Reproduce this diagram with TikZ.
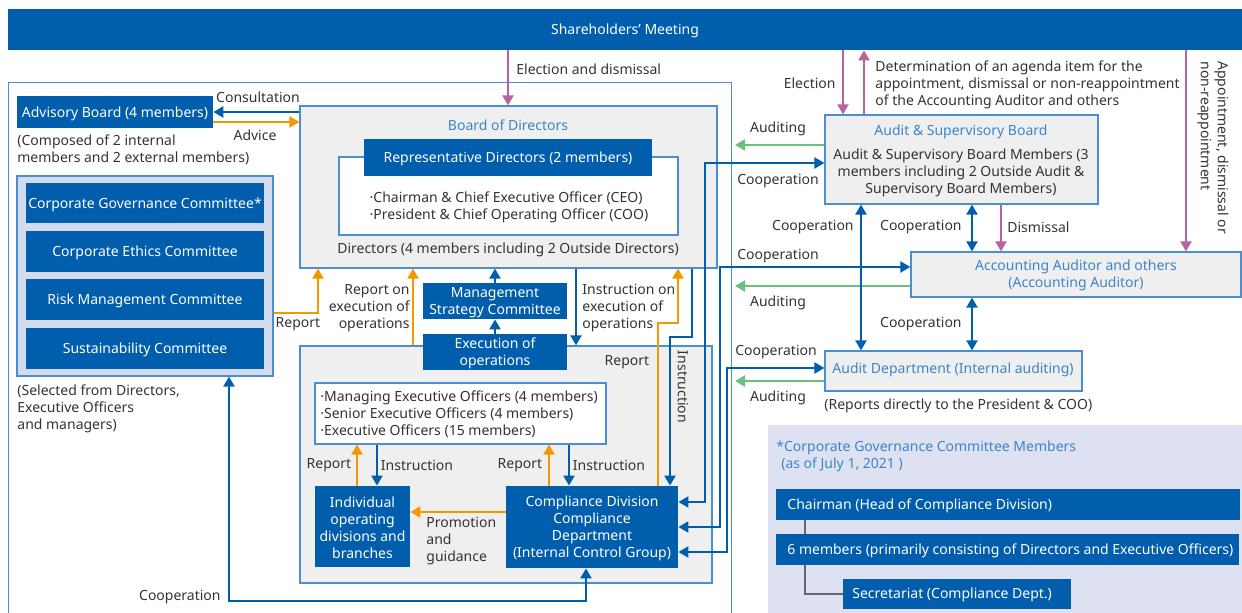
\documentclass[tikz,border=0pt]{standalone}
\usepackage{fontspec}
\setmainfont{Noto Sans}
\usetikzlibrary{arrows.meta,fit,calc}
\definecolor{dblue}{HTML}{005EAD}
\definecolor{lblue}{HTML}{4A8FD4}
\definecolor{tblue}{HTML}{3C85C8}
\definecolor{gfill}{HTML}{EFEFEF}
\definecolor{lav}{HTML}{D3DBEE}
\definecolor{lav2}{HTML}{DDE1F2}
\definecolor{orng}{HTML}{F39800}
\definecolor{grn}{HTML}{6BBF7F}
\definecolor{pnk}{HTML}{B863A0}
\definecolor{txt}{HTML}{333333}
\definecolor{gline}{HTML}{666666}
\begin{document}
\begin{tikzpicture}[x=0.5pt,y=-0.5pt, font=\fontsize{7}{8.5}\selectfont, text=txt,
 dbox/.style={fill=dblue, draw=none, inner sep=0},
 wt/.style={text=white, inner sep=0, align=center, yshift=-0.75pt},
 gbox/.style={fill=gfill, draw=lblue, line width=0.6pt, inner sep=0},
 wbox/.style={fill=white, draw=lblue, line width=0.6pt, inner sep=0},
 lbl/.style={inner sep=0, align=left, yshift=-0.5pt},
 btitle/.style={inner sep=0, text=tblue, align=center},
 bar/.style={draw=dblue, line width=1.1pt, -{Triangle[length=5pt,width=5.5pt]}},
 dbar/.style={draw=dblue, line width=1.1pt, {Triangle[length=5pt,width=5.5pt]}-{Triangle[length=5pt,width=5.5pt]}},
 oar/.style={draw=orng, line width=1.1pt, -{Triangle[length=5pt,width=5.5pt]}},
 gar/.style={draw=grn, line width=1.1pt, -{Triangle[length=5pt,width=5.5pt]}},
 par/.style={draw=pnk, line width=1.1pt, -{Triangle[length=5pt,width=5.5pt]}},
 gconn/.style={draw=gline, line width=1pt},
]
\useasboundingbox (0,0) rectangle (1242,613);
% Shareholders
\node[dbox, fit={(8,9)(1242,50)}] (sh) {};
\node[wt] (sht) at (sh.center) {Shareholders' Meeting};
% outer frame
\node[draw=lblue, line width=0.5pt, inner sep=0, fit={(8,83)(731,640)}] (frame) {};
% Board of Directors
\node[gbox, fit={(300,106)(717,268)}] (bod) {};
\node[btitle] (bodt) at (508,125) {Board of Directors};
\node[wbox, fit={(339,157)(678,235)}] (repin) {};
\node[dbox, fit={(364,139)(652,176)}] (rep) {};
\node[wt] (rept) at (rep.center) {Representative Directors (2 members)};
\node[lbl] (reptxt) at (509,206) {·Chairman \& Chief Executive Officer (CEO)\\·President \& Chief Operating Officer (COO)};
\node[lbl] (dirt) at (508,249) {Directors (4 members including 2 Outside Directors)};
% Advisory
\node[dbox, fit={(17,96)(213,128)}] (adv) {};
\node[wt] (advn) at (adv.center) {Advisory Board (4 members)};
\node[lbl, anchor=north west] (advt) at (17,133) {(Composed of 2 internal\\members and 2 external members)};
\draw[bar] (bod.west |- 0,112) -- (adv.east |- 0,112);
\node[lbl] (l1) at (258,96) {Consultation};
\draw[oar] (adv.east |- 0,122) -- (bod.west |- 0,122);
\node[lbl] (l2) at (255,134) {Advice};
% Committees
\node[fill=lav, draw=lblue, line width=0.6pt, inner sep=0, fit={(17,176)(273,376)}] (cmt) {};
\node[dbox, fit={(26,183)(264,223)}] (cg) {};
\node[wt] at (cg.center) {Corporate Governance Committee*};
\node[dbox, fit={(26,231)(264,272)}] (ce) {};
\node[wt] at (ce.center) {Corporate Ethics Committee};
\node[dbox, fit={(26,279)(264,320)}] (rm) {};
\node[wt] at (rm.center) {Risk Management Committee};
\node[dbox, fit={(26,328)(264,369)}] (su) {};
\node[wt] at (su.center) {Sustainability Committee};
\node[lbl, anchor=north west] (selt) at (17,383) {(Selected from Directors,\\Executive Officers\\and managers)};
\draw[oar] (cmt.east |- 0,313) -| (bod.south -| 318,0);
\node[lbl] (l3) at (298,323) {Report};
% Execution area
\node[gbox, fit={(300,346)(712,583)}] (ex) {};
\node[dbox, fit={(423,283)(567,319)}] (msc) {};
\node[wt] at (msc.center) {Management\\Strategy Committee};
\node[dbox, fit={(423,334)(567,370)}] (eo) {};
\node[wt] at (eo.center) {Execution of\\operations};
\draw[bar] (eo.north) -- (msc.south);
\draw[bar] (msc.north) -- (bod.south -| msc.north);
\draw[oar] (ex.north -| 413,0) -- (bod.south -| 413,0);
\node[lbl, anchor=east, align=right] (l4) at (410,307) {Report on\\execution of\\operations};
\draw[bar] (bod.south -| 576,0) -- (ex.north -| 576,0);
\node[lbl, anchor=west] (l5) at (582,307) {Instruction on\\execution of\\operations};
% executive officers
\node[wbox, fit={(315,383)(606,444)}] (eof) {};
\node[lbl, anchor=west] (eoft) at (320,413) {·Managing Executive Officers (4 members)\\·Senior Executive Officers (4 members)\\·Executive Officers (15 members)};
\node[dbox, fit={(315,486)(410,567)}] (ind) {};
\node[wt] at (ind.center) {Individual\\operating\\divisions and\\branches};
\node[dbox, fit={(506,486)(678,568)}] (comp) {};
\node[wt] at (comp.center) {Compliance Division\\Compliance\\Department\\(Internal Control Group)};
\draw[oar] (ind.north -| 357,0) -- (eof.south -| 357,0);
\draw[bar] (eof.south -| 377,0) -- (ind.north -| 377,0);
\node[lbl] (l6) at (329,464) {Report};
\node[lbl] (l7) at (417,464) {Instruction};
\draw[oar] (comp.north -| 549,0) -- (eof.south -| 549,0);
\draw[bar] (eof.south -| 569,0) -- (comp.north -| 569,0);
\node[lbl] (l8) at (520,464) {Report};
\node[lbl] (l9) at (609,464) {Instruction};
\draw[oar] (comp.west |- 0,512) -- (ind.east |- 0,512);
\node[lbl, anchor=north west] (l10) at (426,516) {Promotion\\and\\guidance};
% report / instruction to BoD from compliance
\draw[oar] (comp.north -| 658,0) -- (658,323) -- (678,323) -- (bod.south -| 678,0);
\node[lbl] (l11) at (627,361) {Report};
\draw[bar] (bod.south -| 692,0) -- (692,337) -- (670,337) -- (comp.north -| 670,0);
\node[inner sep=0, rotate=-90] (l12) at (683,387) {Instruction};
% bottom cooperation
\draw[dbar] (comp.south -| 586,0) -- (586,601) -- (229,601) -- (cmt.south -| 229,0);
\node[lbl, anchor=east] (l13) at (221,596) {Cooperation};
% Right side boxes
\node[gbox, fit={(825,115)(1098,204)}] (asb) {};
\node[btitle] (asbt) at (961,132) {Audit \& Supervisory Board};
\node[inner sep=0, align=center] (asbx) at (961,173) {Audit \& Supervisory Board Members (3\\members including 2 Outside Audit \&\\Supervisory Board Members)};
\node[gbox, fit={(911,252)(1241,297)}] (aa) {};
\node[btitle] (aat) at (1076,275) {Accounting Auditor and others\\(Accounting Auditor)};
\node[gbox, fit={(825,351)(1082,391)}] (ad) {};
\node[btitle] (adt) at (953,370) {Audit Department (Internal auditing)};
\node[lbl, anchor=west] (adn) at (824,405) {(Reports directly to the President \& COO)};
% cooperation lines from compliance
\draw[dbar] (comp.east |- 0,502) -- (705,502) -- (705,163) -- (asb.west |- 0,163);
\draw[dbar] (comp.east |- 0,527) -- (720,527) -- (720,267) -- (aa.west |- 0,267);
\draw[dbar] (comp.east |- 0,552) -- (727,552) -- (727,368) -- (ad.west |- 0,368);
\node[lbl] (l14) at (778,180) {Cooperation};
\node[lbl] (l15) at (778,255) {Cooperation};
\node[lbl] (l16) at (776,351) {Cooperation};
% auditing
\coordinate (g1) at (735,145);
\coordinate (g2) at (735,286);
\coordinate (g3) at (735,381);
\draw[gar] (asb.west |- g1) -- (g1);
\draw[gar] (aa.west |- g2) -- (g2);
\draw[gar] (ad.west |- g3) -- (g3);
\node[lbl] (l17) at (778,128) {Auditing};
\node[lbl] (l18) at (778,302) {Auditing};
\node[lbl] (l19) at (778,397) {Auditing};
% vertical cooperation
\draw[dbar] (asb.south -| 861,0) -- (ad.north -| 861,0);
\node[lbl, anchor=east] (l20) at (854,226) {Cooperation};
\draw[dbar] (asb.south -| 972,0) -- (aa.north -| 972,0);
\node[lbl, anchor=east] (l21) at (962,226) {Cooperation};
\draw[dbar] (aa.south -| 972,0) -- (ad.north -| 972,0);
\node[lbl, anchor=east] (l22) at (962,323) {Cooperation};
\draw[par] (asb.south -| 1001,0) -- (aa.north -| 1001,0);
\node[lbl, anchor=west] (l23) at (1007,226) {Dismissal};
% pink from shareholders
\draw[par] (sh.south -| 508,0) -- (bod.north -| 508,0);
\node[lbl, anchor=west] (l24) at (516,68) {Election and dismissal};
\draw[par] (sh.south -| 843,0) -- (asb.north -| 843,0);
\node[lbl, anchor=east] (l25) at (836,82) {Election};
\draw[par] (asb.north -| 864,0) -- (sh.south -| 864,0);
\node[lbl, anchor=north west] (l26) at (875,59) {Determination of an agenda item for the\\appointment, dismissal or non-reappointment\\of the Accounting Auditor and others};
\draw[par] (sh.south -| 1186,0) -- (aa.north -| 1186,0);
\node[inner sep=0, align=left, rotate=-90, anchor=north west] (l27) at (1229,61) {Appointment, dismissal or\\non-reappointment};
% lower right panel
\node[fill=lav2, inner sep=0, fit={(768,425)(1250,640)}] (panel) {};
\node[lbl, anchor=north west, text=tblue] (pt) at (776,439) {*Corporate Governance Committee Members\\\hspace{0.35em}(as of July 1, 2021 )};
\node[dbox, fit={(776,489)(1240,520)}] (chair) {};
\node[anchor=west, text=white, inner sep=0] (chairt) at (787,505.5) {Chairman (Head of Compliance Division)};
\node[dbox, fit={(776,534)(1239,565)}] (six) {};
\node[anchor=west, text=white, inner sep=0] (sixt) at (787,550.5) {6 members (primarily consisting of Directors and Executive Officers)};
\node[dbox, fit={(843,579)(1071,609)}] (sec) {};
\node[anchor=west, text=white, inner sep=0] (sect) at (852,595) {Secretariat (Compliance Dept.)};
\draw[gconn] (chair.south -| 805,0) -- (six.north -| 805,0);
\draw[gconn] (six.south -| 805,0) |- (sec.west);
\end{tikzpicture}
\end{document}
